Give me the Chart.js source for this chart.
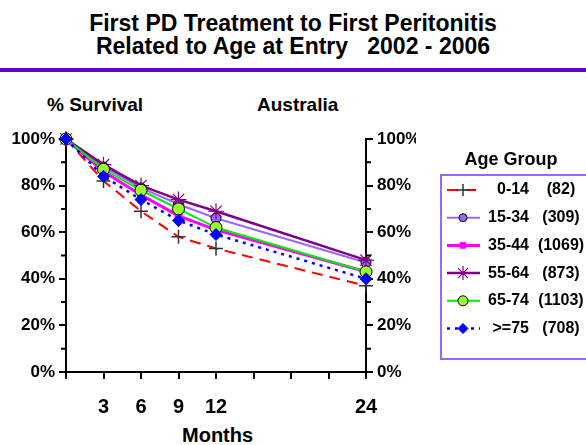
<!DOCTYPE html>
<html>
<head>
<meta charset="utf-8">
<script src="https://cdn.jsdelivr.net/npm/chart.js@4"></script>
<style>
  body { margin: 0; background: #fff; }
  #wrap { position: relative; width: 586px; height: 445px; overflow: hidden; font-family: "Liberation Sans", Arial, sans-serif; font-weight: bold; }
  #wrap div.t { position: absolute; white-space: nowrap; color: #000; }
  #title { left: 0; width: 586px; top: 12px; text-align: center; font-size: 23px; line-height: 23px; }
  #rule { position: absolute; left: 0; top: 68px; width: 586px; height: 4px; background: #6600cc; }
  canvas { position: absolute; left: 0; top: 0; }
</style>
</head>
<body>
<div id="wrap">
  <div class="t" id="title">First PD Treatment to First Peritonitis<br>Related to Age at Entry &nbsp; 2002 - 2006</div>
  <div id="rule"></div>
  <div class="t" style="left:47px; top:94px; font-size:19px;">% Survival</div>
  <div class="t" style="left:257px; top:94px; font-size:19px;">Australia</div>
  <div class="t" style="left:182px; top:424px; font-size:20px;">Months</div>
  <canvas id="c" width="586" height="445"></canvas>
</div>
<script>
// data
const months = [0, 3, 6, 9, 12, 24];
const xLabels = [3, 6, 9, 12, 24];
const yMinor = [10, 30, 50, 70, 90];
const groups = ['0-14', '15-34', '35-44', '55-64', '65-74', '>=75'];
const counts = ['(82)', '(309)', '(1069)', '(873)', '(1103)', '(708)'];
const g0_14 = [100, 82, 69, 58, 53, 37];
const g15_34 = [100, 88, 79, 72, 66, 47];
const g35_44 = [100, 86, 76, 67, 61, 43];
const g55_64 = [100, 89, 80, 74, 69, 48];
const g65_74 = [100, 87, 78, 70, 62, 43];
const g75 = [100, 84, 74, 65, 59, 40];

const FONT = '"Liberation Sans", Arial, sans-serif';

function pts(vals) {
    return months.map((m, i) => ({ x: m, y: vals[i] }));
}

const datasets = [
    { label: groups[0], data: pts(g0_14), borderColor: '#ff0000', borderWidth: 2, borderDash: [11, 7],
      pointStyle: 'cross', pointRadius: 7, pointBorderColor: '#333', pointBorderWidth: 1.5, order: 6 },
    { label: groups[1], data: pts(g15_34), borderColor: '#9966ff', borderWidth: 2,
      pointStyle: 'circle', pointRadius: 5, pointBackgroundColor: '#9966ff', pointBorderColor: '#000', pointBorderWidth: 1, order: 5 },
    { label: groups[2], data: pts(g35_44), borderColor: '#ff00ff', borderWidth: 3,
      pointStyle: 'rect', pointRadius: 5, pointBackgroundColor: '#ff00ff', pointBorderColor: '#ff00ff', pointBorderWidth: 1, order: 4 },
    { label: groups[3], data: pts(g55_64), borderColor: '#800080', borderWidth: 2.5,
      pointStyle: 'star', pointRadius: 8, pointBackgroundColor: '#800080', pointBorderColor: '#800080', pointBorderWidth: 1.2, order: 3 },
    { label: groups[4], data: pts(g65_74), borderColor: '#00ee00', borderWidth: 2,
      pointStyle: 'circle', pointRadius: 6, pointBackgroundColor: '#99ff33', pointBorderColor: '#000', pointBorderWidth: 1, order: 2 },
    { label: groups[5], data: pts(g75), borderColor: '#0000ff', borderWidth: 2.5, borderDash: [3, 5],
      pointStyle: 'rectRot', pointRadius: 6, pointBackgroundColor: '#0000ff', pointBorderColor: '#0000ff', pointBorderWidth: 1, order: 1 }
];
datasets.forEach(d => { d.tension = 0; d.fill = false; d.clip = false; });

// short unlabelled ticks between the 20% steps, on both value axes
const minorTicks = {
    id: 'minorTicks',
    afterDraw(chart) {
        const ctx = chart.ctx;
        const left = chart.scales.y, right = chart.scales.y2;
        ctx.save();
        ctx.strokeStyle = '#000';
        ctx.lineWidth = 2;
        yMinor.forEach(v => {
            const py = left.getPixelForValue(v);
            ctx.beginPath();
            ctx.moveTo(left.right - 5, py);
            ctx.lineTo(left.right, py);
            ctx.moveTo(right.left, py);
            ctx.lineTo(right.left + 5, py);
            ctx.stroke();
        });
        ctx.restore();
    }
};

// legend box drawn by hand, to the right of the right axis
const legendBox = {
    id: 'legendBox',
    afterDraw(chart) {
        const ctx = chart.ctx;
        ctx.save();
        ctx.fillStyle = '#000';
        ctx.font = 'bold 18px ' + FONT;
        ctx.textAlign = 'center';
        ctx.textBaseline = 'middle';
        ctx.fillText('Age Group', 511, 160);

        ctx.strokeStyle = '#9966ff';
        ctx.lineWidth = 2;
        ctx.strokeRect(441, 175, 160, 184);

        ctx.font = 'bold 16px ' + FONT;
        chart.data.datasets.forEach((ds, i) => {
            const y = 190 + i * 27.7;
            ctx.save();
            ctx.strokeStyle = ds.borderColor;
            ctx.lineWidth = ds.borderWidth;
            ctx.setLineDash(ds.borderDash || []);
            ctx.beginPath();
            ctx.moveTo(447, y);
            ctx.lineTo(480, y);
            ctx.stroke();
            ctx.restore();
            ctx.save();
            ctx.fillStyle = ds.pointBackgroundColor || ds.pointBorderColor;
            ctx.strokeStyle = ds.pointBorderColor;
            ctx.lineWidth = ds.pointBorderWidth;
            Chart.helpers.drawPoint(ctx, { pointStyle: ds.pointStyle, radius: ds.pointRadius - 1, borderWidth: ds.pointBorderWidth, rotation: 0 }, 463, y);
            ctx.restore();
            ctx.fillStyle = '#000';
            ctx.textAlign = 'right';
            ctx.fillText(ds.label, 529, y);
            ctx.textAlign = 'center';
            ctx.fillText(counts[i], 561, y);
        });
        ctx.restore();
    }
};

const yAxis = (pos) => ({
    type: 'linear',
    position: pos,
    min: 0,
    max: 100,
    grid: { drawOnChartArea: false, drawTicks: true, tickLength: 7, color: '#000', lineWidth: 2 },
    border: { display: true, color: '#000', width: 2 },
    ticks: {
        stepSize: 20,
        autoSkip: false,
        padding: 4,
        color: '#000',
        font: { family: FONT, size: 17, weight: 'bold' },
        callback: v => v + '%'
    },
    afterFit: s => { s.width = pos === 'left' ? 66 : 50; }
});

new Chart(document.getElementById('c'), {
    type: 'line',
    data: { datasets: datasets },
    options: {
        responsive: false,
        animation: false,
        layout: { padding: { left: 0, right: 170, top: 139, bottom: 0 } },
        plugins: { legend: { display: false }, tooltip: { enabled: false } },
        scales: {
            x: {
                type: 'linear',
                min: 0,
                max: 24,
                grid: { drawOnChartArea: false, drawTicks: true, tickLength: 7, color: '#000', lineWidth: 2 },
                border: { display: true, color: '#000', width: 2 },
                ticks: {
                    stepSize: 3,
                    padding: 16,
                    maxRotation: 0,
                    autoSkip: false,
                    color: '#000',
                    font: { family: FONT, size: 20, weight: 'bold' },
                    callback: v => (xLabels.includes(v) ? String(v) : '')
                },
                afterFit: s => { s.height = 73; }
            },
            y: yAxis('left'),
            y2: yAxis('right')
        }
    },
    plugins: [minorTicks, legendBox]
});
</script>
</body>
</html>
